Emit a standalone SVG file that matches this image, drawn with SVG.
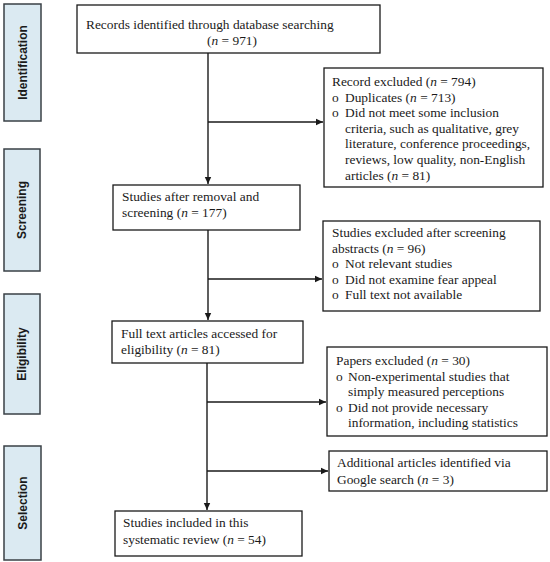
<svg xmlns="http://www.w3.org/2000/svg" width="550" height="562" viewBox="0 0 550 562">
<style>
.stage{fill:#dbeaf2;stroke:#3a4046;stroke-width:1.5}
.stxt{font-family:"Liberation Sans",Arial,sans-serif;font-weight:bold;font-size:12px;fill:#1a1a1a;text-anchor:middle}
.box{fill:#fff;stroke:#1a1a1a;stroke-width:1.3}
.t{font-family:"Liberation Serif","Times New Roman",serif;font-size:13.4px;fill:#1a1a1a}
.ln{fill:none;stroke:#1a1a1a;stroke-width:1.4}
</style>
<defs>
<marker id="ah" markerWidth="8" markerHeight="8" refX="7" refY="4" orient="auto" markerUnits="userSpaceOnUse">
<path d="M0,0.8 L7,4 L0,7.2 Z" fill="#1a1a1a"/>
</marker>
</defs>
<rect width="550" height="562" fill="#fff"/>
<g id="stage-identification"><rect class="stage" x="4" y="4" width="37" height="117"/><text class="stxt" transform="translate(26.5,62.5) rotate(-90)">Identification</text></g>
<g id="stage-screening"><rect class="stage" x="4" y="149" width="36" height="122"/><text class="stxt" transform="translate(26,210) rotate(-90)">Screening</text></g>
<g id="stage-eligibility"><rect class="stage" x="4" y="294" width="36" height="120"/><text class="stxt" transform="translate(26,354) rotate(-90)">Eligibility</text></g>
<g id="stage-selection"><rect class="stage" x="4" y="446" width="37" height="114"/><text class="stxt" transform="translate(26.5,503) rotate(-90)">Selection</text></g>

<g id="connectors">
<line class="ln" x1="208" y1="53" x2="208" y2="184" marker-end="url(#ah)"/>
<line class="ln" x1="208" y1="122" x2="323" y2="122" marker-end="url(#ah)"/>
<line class="ln" x1="208" y1="230" x2="208" y2="320" marker-end="url(#ah)"/>
<line class="ln" x1="208" y1="279" x2="322" y2="279" marker-end="url(#ah)"/>
<line class="ln" x1="207" y1="363" x2="207" y2="510" marker-end="url(#ah)"/>
<line class="ln" x1="207" y1="402" x2="326" y2="402" marker-end="url(#ah)"/>
<line class="ln" x1="207" y1="471" x2="328" y2="471" marker-end="url(#ah)"/>
</g>

<g id="records-identified"><rect class="box" x="77" y="5" width="303" height="48"/>
<text class="t" x="86" y="29">Records identified through database searching</text>
<text class="t" x="232" y="45" text-anchor="middle">(<tspan font-style="italic">n</tspan> = 971)</text></g>

<g id="record-excluded"><rect class="box" x="324" y="68" width="219" height="119"/>
<text class="t" x="332" y="86">Record excluded (<tspan font-style="italic">n</tspan> = 794)</text>
<text class="t" x="332" y="101.6">o</text><text class="t" x="345" y="101.6">Duplicates (<tspan font-style="italic">n</tspan> = 713)</text>
<text class="t" x="332" y="117.2">o</text><text class="t" x="345" y="117.2">Did not meet some inclusion</text>
<text class="t" x="345" y="132.8">criteria, such as qualitative, grey</text>
<text class="t" x="345" y="148.4">literature, conference proceedings,</text>
<text class="t" x="345" y="164">reviews, low quality, non-English</text>
<text class="t" x="345" y="179.6">articles (<tspan font-style="italic">n</tspan> = 81)</text></g>

<g id="studies-after-removal"><rect class="box" x="113" y="185" width="187" height="45"/>
<text class="t" x="122" y="201">Studies after removal and</text>
<text class="t" x="122" y="217">screening (<tspan font-style="italic">n</tspan> = 177)</text></g>

<g id="studies-excluded"><rect class="box" x="323" y="221" width="217" height="90"/>
<text class="t" x="332" y="237">Studies excluded after screening</text>
<text class="t" x="332" y="252.5">abstracts (<tspan font-style="italic">n</tspan> = 96)</text>
<text class="t" x="332" y="268">o</text><text class="t" x="345" y="268">Not relevant studies</text>
<text class="t" x="332" y="283.5">o</text><text class="t" x="345" y="283.5">Did not examine fear appeal</text>
<text class="t" x="332" y="299">o</text><text class="t" x="345" y="299">Full text not available</text></g>

<g id="full-text"><rect class="box" x="112" y="321" width="191" height="42"/>
<text class="t" x="121" y="337.5">Full text articles accessed for</text>
<text class="t" x="121" y="353.5">eligibility (<tspan font-style="italic">n</tspan> = 81)</text></g>

<g id="papers-excluded"><rect class="box" x="327" y="347" width="220" height="89"/>
<text class="t" x="336" y="365">Papers excluded (<tspan font-style="italic">n</tspan> = 30)</text>
<text class="t" x="336" y="380.6">o</text><text class="t" x="348" y="380.6">Non-experimental studies that</text>
<text class="t" x="348" y="396.2">simply measured perceptions</text>
<text class="t" x="336" y="411.8">o</text><text class="t" x="348" y="411.8">Did not provide necessary</text>
<text class="t" x="348" y="427.4">information, including statistics</text></g>

<g id="additional-articles"><rect class="box" x="329" y="451" width="218" height="40"/>
<text class="t" x="337" y="467">Additional articles identified via</text>
<text class="t" x="337" y="483.5">Google search (<tspan font-style="italic">n</tspan> = 3)</text></g>

<g id="studies-included"><rect class="box" x="115" y="511" width="187" height="45"/>
<text class="t" x="123" y="527">Studies included in this</text>
<text class="t" x="123" y="543.5">systematic review (<tspan font-style="italic">n</tspan> = 54)</text></g>
</svg>
